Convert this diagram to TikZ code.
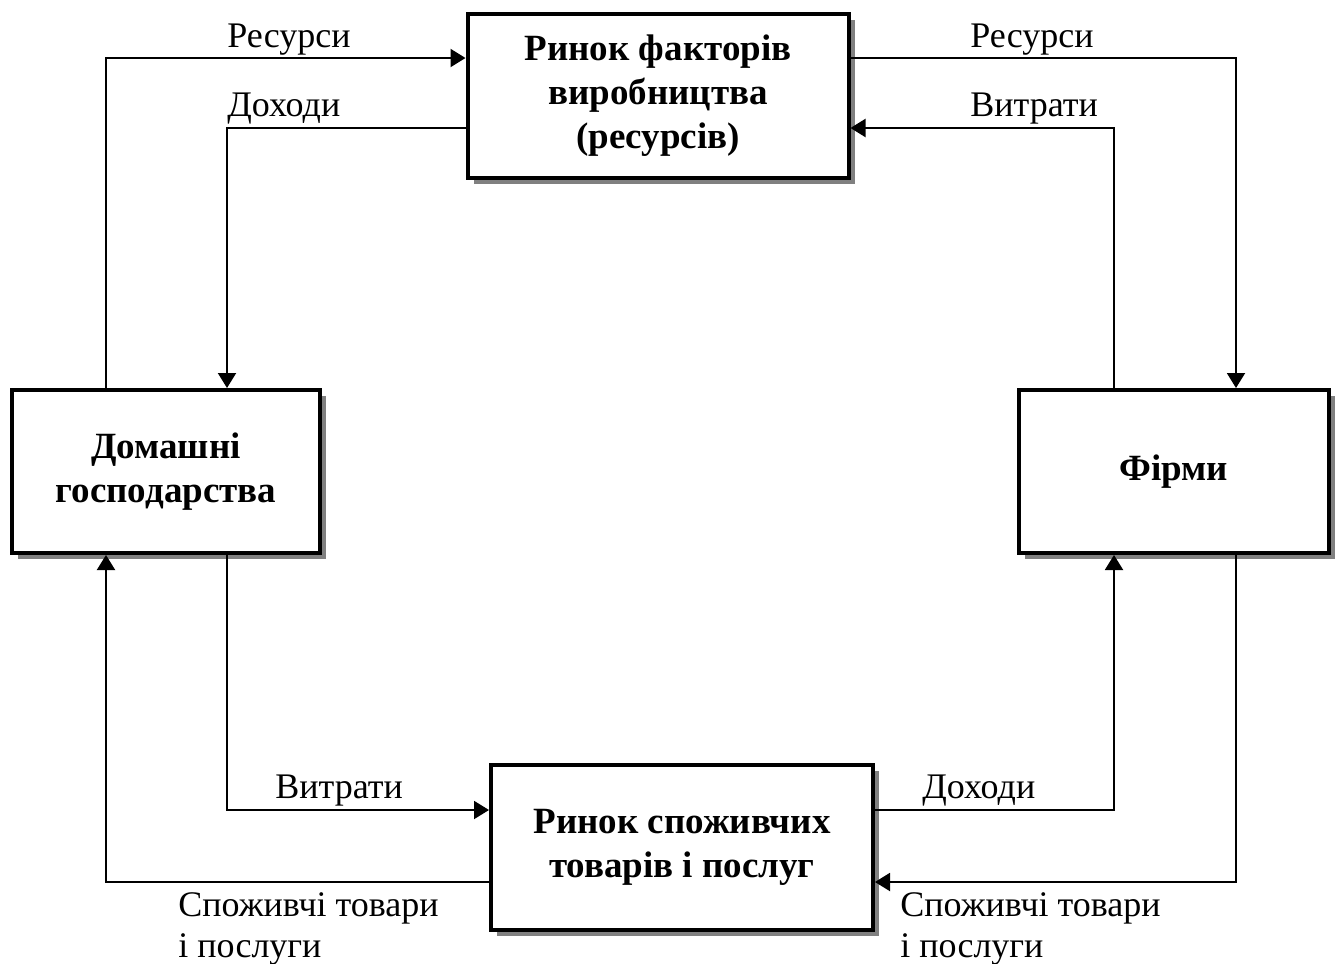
\documentclass[tikz,border=0pt]{standalone}
\usepackage{fontspec}
\setmainfont{Liberation Serif}
\usetikzlibrary{arrows.meta,shadows}
\tikzset{
>={Triangle[length=7.5pt,width=9pt]},
  market/.style={
    rectangle,
    draw=black, line width=2pt,
    fill=white,
    align=center,
    font=\fontsize{18.5}{22}\selectfont\bfseries,
    drop shadow={shadow xshift=3pt, shadow yshift=-3pt, fill=black!50, opacity=1}},
  flow/.style={draw, line width=1pt, ->},
  lbl/.style={font=\fontsize{18}{20.5}\selectfont, inner sep=0pt, anchor=base west, align=left},
}
\begin{document}
\begin{tikzpicture}[x=0.5pt, y=-0.5pt]
     \useasboundingbox (0,0) rectangle (1340,964);
     % markets and agents
     \node[market, minimum width=190.5pt, minimum height=82pt] (FactorMarket) at (658,96) {Ринок факторів\\виробництва\\(ресурсів)};
     \node[market, minimum width=154pt, minimum height=81.5pt] (Households) at (166,471.5) {Домашні\\господарства};
     \node[market, minimum width=155pt, minimum height=81.5pt] (Firms) at (1174,471.5) {Фірми};
     \node[market, minimum width=191pt, minimum height=82.5pt] (GoodsMarket) at (682,847.5) {Ринок споживчих\\товарів і послуг};
     % lanes and rows of the flows
     \coordinate (laneA) at (106,0);
     \coordinate (laneB) at (227,0);
     \coordinate (laneC) at (1114,0);
     \coordinate (laneD) at (1236,0);
     \coordinate (rowA) at (0,58);
     \coordinate (rowB) at (0,128);
     \coordinate (rowC) at (0,810);
     \coordinate (rowD) at (0,882);
     % flows
     \draw[flow] (Households.north -| laneA) |- (FactorMarket.west |- rowA);
     \draw[flow] (FactorMarket.west |- rowB) -| (Households.north -| laneB);
     \draw[flow] (FactorMarket.east |- rowA) -| (Firms.north -| laneD);
     \draw[flow] (Firms.north -| laneC) |- (FactorMarket.east |- rowB);
     \draw[flow] (Households.south -| laneB) |- (GoodsMarket.west |- rowC);
     \draw[flow] (GoodsMarket.west |- rowD) -| (Households.south -| laneA);
     \draw[flow] (GoodsMarket.east |- rowC) -| (Firms.south -| laneC);
     \draw[flow] (Firms.south -| laneD) |- (GoodsMarket.east |- rowD);
     % labels
     \node[lbl] (ResLeft)   at (227,47)  {Ресурси};
     \node[lbl] (IncLeft)   at (227,116) {Доходи};
     \node[lbl] (ResRight)  at (970,47)  {Ресурси};
     \node[lbl] (CostRight) at (970,116) {Витрати};
     \node[lbl] (CostLeft)  at (275,798) {Витрати};
     \node[lbl] (IncRight)  at (922,798) {Доходи};
     \node[lbl] (GoodsLeft)  at (178,957) {Споживчі товари\\і послуги};
     \node[lbl] (GoodsRight) at (900,957) {Споживчі товари\\і послуги};
\end{tikzpicture}
\end{document}
